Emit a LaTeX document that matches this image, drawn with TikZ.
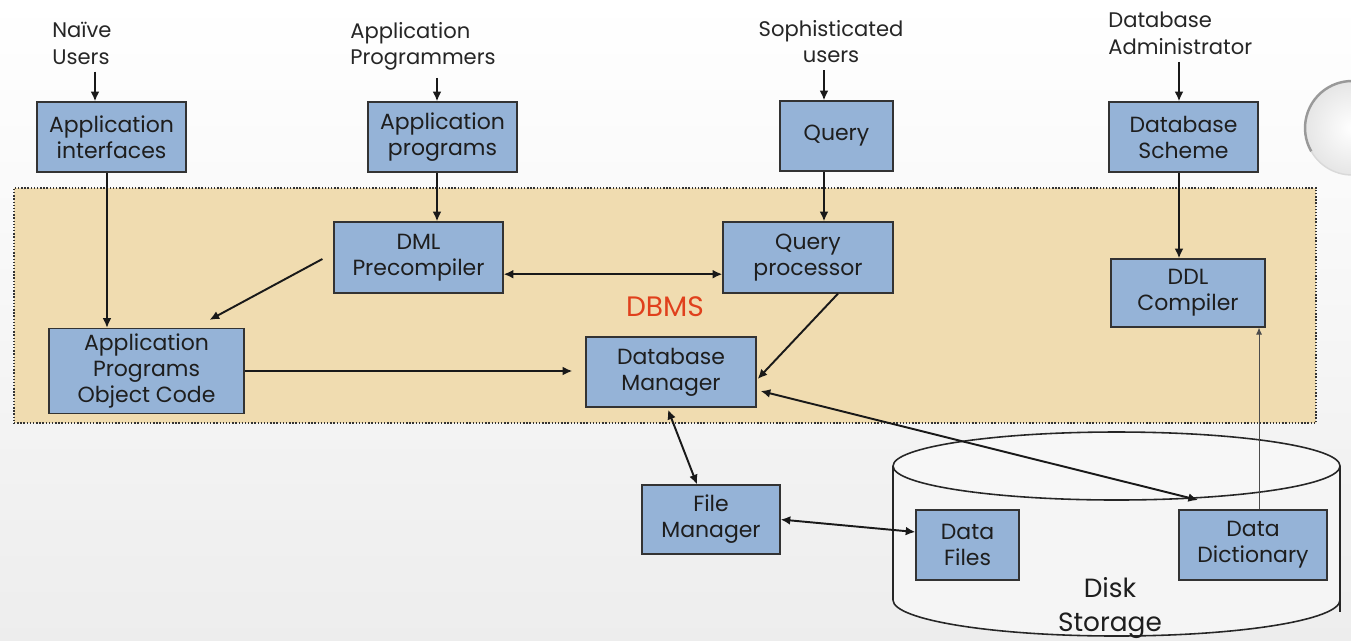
\documentclass[tikz,border=0pt]{standalone}
\usepackage{fontspec}
\setmainfont{Poppins}
\usetikzlibrary{arrows.meta,calc,shadings}
\definecolor{boxblue}{HTML}{95B3D7}
\definecolor{dbmsfill}{HTML}{F0DCB0}
\definecolor{dbmsred}{HTML}{E0401C}
\definecolor{ink}{HTML}{1E1E1E}
\begin{document}
\begin{tikzpicture}[x=0.02cm,y=-0.02cm,
  comp/.style={draw=black!80,line width=0.7pt,fill=boxblue,text=ink,align=center,
    font=\fontsize{12.5}{14.8}\selectfont,inner sep=0pt},
  actor/.style={text=black!85,font=\fontsize{12}{15}\selectfont,inner sep=0pt},
  arr/.style={line width=1.1pt,black!90,-{Latex[length=5.5pt,width=5pt]}},
  darr/.style={line width=1.1pt,black!90,{Latex[length=5.5pt,width=5pt]}-{Latex[length=5.5pt,width=5pt]}},
  thinarr/.style={line width=0.5pt,black!70,-{Latex[length=4pt,width=3.5pt]}}]
% page
\useasboundingbox (0,0) rectangle (1351,640);
\shade[top color=white,bottom color=black!7] (0,0) rectangle (1351,640);
% round ornament at the right edge
\shade[inner color=white,outer color=black!10] (1352,128) circle (47);
\draw[black!40,line width=1.4pt] (1352,128) ++(150:47) arc (150:280:47);
\draw[black!15,line width=0.8pt] (1352,128) ++(80:47) arc (80:150:47);
% DBMS region
\node[draw=black!80,densely dotted,line width=0.8pt,fill=dbmsfill,minimum width=1302*0.02cm,
  minimum height=235*0.02cm,inner sep=0pt] (dbms) at (665,305.5) {};
\node[text=dbmsred,font=\fontsize{16}{18}\selectfont] (dbmslbl) at (665,307) {DBMS};
% disk storage cylinder
\draw[black!85,line width=0.9pt,fill=white!96!black]
  (893,466) -- (893,600) arc[start angle=180,end angle=0,x radius=223.5,y radius=36]
  -- (1340,466);
\draw[black!85,line width=0.9pt,fill=white!97!black] (1116.5,466) ellipse [x radius=223.5,y radius=34];
\draw[black!85,line width=1.6pt] (1340,470) -- (1340,612);
\node[align=center,text=ink,font=\fontsize{15}{19}\selectfont] (disk) at (1110,608) {Disk\\Storage};
% actors
\node[actor,anchor=north west,align=left] (nu) at (52,22) {Naïve\\Users};
\node[actor,anchor=north west,align=left] (apl) at (350,22) {Application\\Programmers};
\node[actor,anchor=north,align=center] (su) at (831,20) {Sophisticated\\users};
\node[actor,anchor=north west,align=left] (da) at (1108,12) {Database\\Administrator};
% components
\node[comp,minimum width=149*0.02cm,minimum height=70*0.02cm] (ai) at (111.5,137) {Application\\interfaces};
\node[comp,minimum width=149*0.02cm,minimum height=70*0.02cm] (ap) at (442.5,137) {Application\\programs};
\node[comp,minimum width=113*0.02cm,minimum height=70*0.02cm] (q) at (836.5,136) {Query};
\node[comp,minimum width=149*0.02cm,minimum height=70*0.02cm] (ds) at (1183.5,137) {Database\\Scheme};
\node[comp,minimum width=169*0.02cm,minimum height=71*0.02cm] (dml) at (418.5,257.5) {DML\\Precompiler};
\node[comp,minimum width=170*0.02cm,minimum height=71*0.02cm] (qp) at (808,257.5) {Query\\processor};
\node[comp,minimum width=154*0.02cm,minimum height=68*0.02cm] (ddl) at (1188,293) {DDL\\Compiler};
\node[comp,minimum width=195*0.02cm,minimum height=85*0.02cm] (apoc) at (146.5,371) {Application\\Programs\\Object Code};
\node[comp,minimum width=170*0.02cm,minimum height=70*0.02cm] (dbm) at (671,372) {Database\\Manager};
\node[comp,minimum width=138*0.02cm,minimum height=69*0.02cm] (fm) at (711,519.5) {File\\Manager};
\node[comp,minimum width=103*0.02cm,minimum height=70*0.02cm] (df) at (967.5,545) {Data\\Files};
\node[comp,minimum width=148*0.02cm,minimum height=70*0.02cm] (dd) at (1253,545) {Data\\Dictionary};
% guide columns for the vertical connectors
\coordinate (c1) at (95,0);
\coordinate (c2) at (107,0);
\coordinate (c3) at (437,0);
\coordinate (c4) at (824,0);
\coordinate (c5) at (1179,0);
\coordinate (c6) at (1259,0);
\coordinate (ddtop) at (1198,500);
% connectors
\draw[arr] ([yshift=-4]nu.south -| c1) -- (ai.north -| c1);
\draw[arr] ([yshift=-4]apl.south -| c3) -- (ap.north -| c3);
\draw[arr] ([yshift=-4]su.south -| c4) -- (q.north -| c4);
\draw[arr] ([yshift=-4]da.south -| c5) -- (ds.north -| c5);
\draw[arr] (ai.south -| c2) -- (apoc.north -| c2);
\draw[arr] (ap.south -| c3) -- (dml.north -| c3);
\draw[arr] (q.south -| c4) -- (qp.north -| c4);
\draw[arr] (ds.south -| c5) -- (ddl.north -| c5);
\draw[darr] ([yshift=-9.5]dml.east) -- ([yshift=-9.5]qp.west);
\draw[arr] ($(dml.west)+(-11,1.5)$) -- ($(apoc.north)+(63,-8)$);
\draw[arr,shorten >=13*0.02cm] (apoc.east) -- (dbm.west |- apoc.east);
\draw[arr] ($(qp.south)+(30,0)$) -- ($(dbm.east)+(1,7)$);
\draw[darr] ($(dbm.east)+(4,19)$) -- (ddtop);
\draw[darr] ($(dbm.south)+(-3,2)$) -- ($(fm.north)+(-14,0)$);
\draw[darr] (fm.east) -- ($(df.west)+(0,-13)$);
\draw[thinarr] (dd.north -| c6) -- (ddl.south -| c6);
\end{tikzpicture}
\end{document}
